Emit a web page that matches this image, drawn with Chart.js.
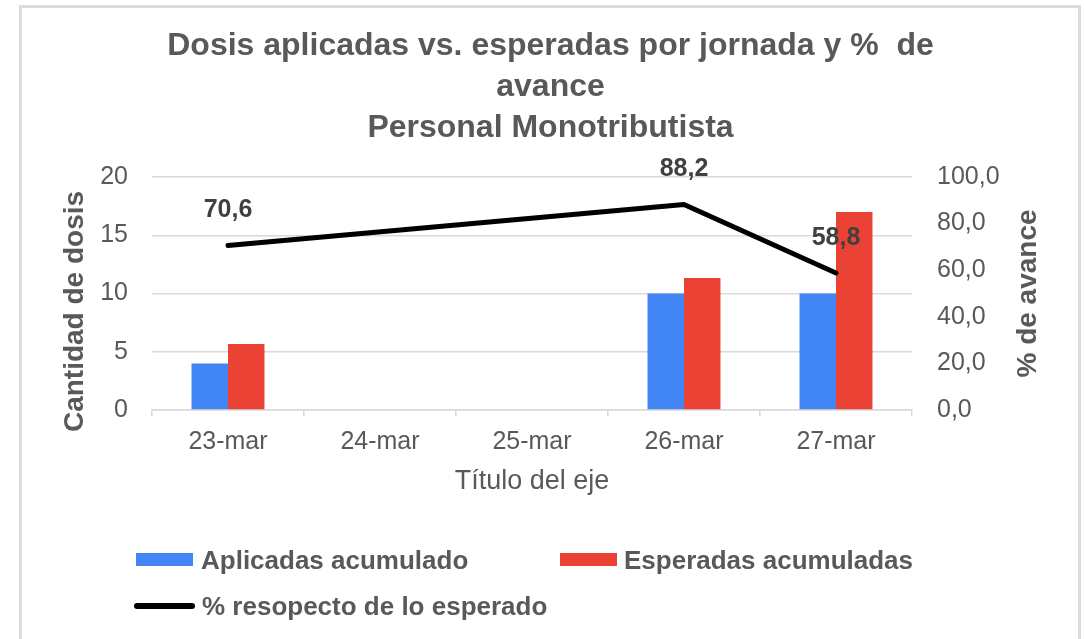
<!DOCTYPE html>
<html><head><meta charset="utf-8">
<script src="https://cdn.jsdelivr.net/npm/chart.js@4/dist/chart.umd.min.js"></script>
<style>
html,body{margin:0;padding:0;background:#fff;width:1084px;height:639px;overflow:hidden;font-family:"Liberation Sans",Arial,sans-serif;}
#frame{position:absolute;left:19px;top:5px;width:1056px;height:640px;border:3px solid #dcdcdc;border-bottom:none;}
#wrap{position:absolute;left:0;top:0;width:1084px;height:639px;}
.lg{position:absolute;font-weight:bold;font-size:26px;line-height:30px;color:#595959;white-space:nowrap;}
.sw{position:absolute;}
</style></head>
<body>
<div id="frame"></div>
<div id="wrap"><canvas id="c" width="1084" height="639"></canvas></div>
<div id="legend"></div>
<script>
const categories = ['23-mar', '24-mar', '25-mar', '26-mar', '27-mar'];
const aplicadas = [4, null, null, 10, 10];
const esperadas = [5.67, null, null, 11.33, 17];
const porcentaje = [70.6, null, null, 88.2, 58.8];
const seriesNames = ['Aplicadas acumulado', 'Esperadas acumuladas', '% resopecto de lo esperado'];
const titleLines = ['Dosis aplicadas vs. esperadas por jornada y %  de', 'avance', 'Personal Monotributista'];
const xTitle = 'Título del eje';
const yTitle = 'Cantidad de dosis';
const y1Title = '% de avance';
const leftTickValues = [0, 5, 10, 15, 20];
const rightTickValues = [0, 20, 40, 60, 80, 100];

const fmt = v => v.toFixed(1).replace('.', ',');
Chart.defaults.font.family = '"Liberation Sans", Arial, sans-serif';

const customText = {
  id: 'customText',
  afterDatasetsDraw(chart) {
    const ctx = chart.ctx;
    const meta = chart.getDatasetMeta(0);
    ctx.save();
    ctx.font = 'bold 25px "Liberation Sans", Arial, sans-serif';
    ctx.fillStyle = '#404040';
    ctx.textAlign = 'center';
    ctx.textBaseline = 'middle';
    meta.data.forEach((pt, i) => {
      const v = porcentaje[i];
      if (v == null) return;
      ctx.fillText(fmt(v), pt.x, pt.y - 35);
    });
    const a = chart.chartArea;
    const cy = (a.top + a.bottom) / 2;
    ctx.font = 'bold 28px "Liberation Sans", Arial, sans-serif';
    ctx.fillStyle = '#595959';
    // right axis title (reads bottom-to-top)
    ctx.save();
    ctx.translate(chart.scales.y1.right - 19, cy);
    ctx.rotate(-Math.PI / 2);
    ctx.fillText(y1Title, 0, 0);
    ctx.restore();
    // left axis title
    ctx.save();
    ctx.translate(chart.scales.y.left + 21, cy + 18);
    ctx.rotate(-Math.PI / 2);
    ctx.fillText(yTitle, 0, 0);
    ctx.restore();
    ctx.restore();
  }
};

new Chart(document.getElementById('c'), {
  data: {
    labels: categories,
    datasets: [
      { type: 'line', label: seriesNames[2], data: porcentaje, yAxisID: 'y1', borderColor: '#000000',
        backgroundColor: '#000000', borderWidth: 5, pointRadius: 0, spanGaps: true, order: 0,
        borderCapStyle: 'round', borderJoinStyle: 'round', tension: 0 },
      { type: 'bar', label: seriesNames[0], data: aplicadas, yAxisID: 'y', backgroundColor: '#4285F4',
        order: 1, categoryPercentage: 0.48, barPercentage: 1 },
      { type: 'bar', label: seriesNames[1], data: esperadas, yAxisID: 'y', backgroundColor: '#EA4335',
        order: 1, categoryPercentage: 0.48, barPercentage: 1 }
    ]
  },
  options: {
    responsive: false,
    animation: false,
    devicePixelRatio: 1,
    layout: { padding: { left: 54, right: 37, top: 0, bottom: 135 } },
    plugins: {
      legend: { display: false },
      tooltip: { enabled: false },
      title: {
        display: true, text: titleLines, color: '#595959',
        font: { size: 32, weight: 'bold', lineHeight: '41px' },
        padding: { top: 26, bottom: 28 }
      }
    },
    scales: {
      x: {
        grid: { drawOnChartArea: false, drawTicks: true, tickLength: 6, color: '#d9d9d9', lineWidth: 1.5 },
        border: { display: true, color: '#d9d9d9', width: 1.5 },
        ticks: { font: { size: 25 }, color: '#595959', padding: 11, maxRotation: 0 },
        title: { display: true, text: xTitle, font: { size: 27 }, color: '#595959', padding: { top: 0, bottom: 6 } },
        afterFit(s) { s.height = 94; }
      },
      y: {
        position: 'left', min: leftTickValues[0], max: leftTickValues[leftTickValues.length - 1],
        ticks: { stepSize: leftTickValues[1] - leftTickValues[0], font: { size: 25 }, color: '#595959', padding: 24 },
        grid: { color: '#d9d9d9', lineWidth: 1.5, drawTicks: false },
        border: { display: false },
        afterFit(s) { s.width = 98; }
      },
      y1: {
        position: 'right', min: rightTickValues[0], max: rightTickValues[rightTickValues.length - 1],
        ticks: { stepSize: rightTickValues[1] - rightTickValues[0], font: { size: 25 }, color: '#595959', padding: 25,
                 callback: v => fmt(v) },
        grid: { drawOnChartArea: false, drawTicks: false },
        border: { display: false },
        afterFit(s) { s.width = 135; }
      }
    }
  },
  plugins: [customText]
});

// HTML legend
const legendItems = [
  { name: seriesNames[0], color: '#4285F4', kind: 'box', bx: 136, tx: 201, cy: 559.5 },
  { name: seriesNames[1], color: '#EA4335', kind: 'box', bx: 560, tx: 624, cy: 559.5 },
  { name: seriesNames[2], color: '#000000', kind: 'line', bx: 134, tx: 202, cy: 606 }
];
const lg = document.getElementById('legend');
legendItems.forEach(it => {
  const sw = document.createElement('div');
  sw.className = 'sw';
  if (it.kind === 'box') {
    sw.style.cssText = `left:${it.bx}px;top:${it.cy - 6.5}px;width:57px;height:13px;background:${it.color};`;
  } else {
    sw.style.cssText = `left:${it.bx}px;top:${it.cy - 3}px;width:61px;height:6px;border-radius:3px;background:${it.color};`;
  }
  lg.appendChild(sw);
  const t = document.createElement('div');
  t.className = 'lg';
  t.style.left = it.tx + 'px';
  t.style.top = (it.cy - 15) + 'px';
  t.textContent = it.name;
  lg.appendChild(t);
});
</script>
</body></html>
